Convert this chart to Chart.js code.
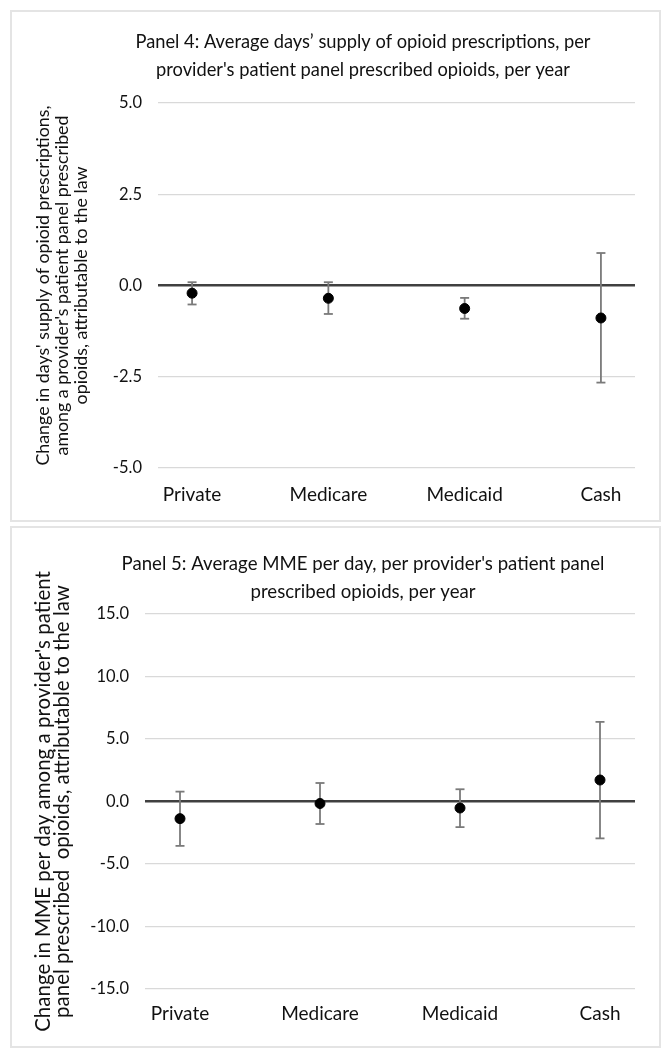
<!DOCTYPE html>
<html>
<head>
<meta charset="utf-8">
<script src="https://cdn.jsdelivr.net/npm/chart.js@4.4.1/dist/chart.umd.min.js"></script>
<style>
  html, body { margin: 0; padding: 0; background: #fff; }
  .panel { position: absolute; left: 10px; width: 651px; border: 2px solid #e4e4e4; box-sizing: border-box; }
  #p1 { top: 10px; height: 512px; }
  #p2 { top: 526px; height: 522px; }
  canvas { display: block; }
</style>
</head>
<body>
<div class="panel" id="p1"><canvas id="chart1" width="647" height="508"></canvas></div>
<div class="panel" id="p2"><canvas id="chart2" width="647" height="518"></canvas></div>
<script>
const categories = ['Private', 'Medicare', 'Medicaid', 'Cash'];

// Panel 4: days' supply
const daysEstimate = [-0.21, -0.35, -0.63, -0.89];
const daysLower = [-0.52, -0.78, -0.91, -2.66];
const daysUpper = [0.09, 0.09, -0.34, 0.89];
const daysTicks = [-5, -2.5, 0, 2.5, 5];

// Panel 5: MME per day
const mmeEstimate = [-1.37, -0.16, -0.52, 1.72];
const mmeLower = [-3.55, -1.80, -2.05, -2.95];
const mmeUpper = [0.79, 1.48, 0.98, 6.37];
const mmeTicks = [-15, -10, -5, 0, 5, 10, 15];

const FONT = 'Lato, "Open Sans", sans-serif';

// draws the panel heading, centered on a given x
const panelTitle = {
  id: 'panelTitle',
  afterDraw(chart, args, opts) {
    const ctx = chart.ctx;
    ctx.save();
    ctx.font = opts.size + 'px ' + FONT;
    ctx.fillStyle = '#111';
    ctx.textAlign = 'center';
    ctx.textBaseline = 'middle';
    opts.lines.forEach((t, i) => ctx.fillText(t, opts.x, opts.y + i * opts.lineHeight));
    ctx.restore();
  }
};

function makeChart(id, cfg) {
  const datasets = [{
    data: cfg.est.map((v, i) => ({ x: i + 1, y: v })),
    pointRadius: 5,
    pointBackgroundColor: '#000',
    pointBorderColor: '#000'
  }];
  cfg.est.forEach((v, i) => {
    datasets.push({
      data: [{ x: i + 1, y: cfg.lo[i] }, { x: i + 1, y: cfg.hi[i] }],
      showLine: true,
      borderColor: '#7a7a7a',
      borderWidth: 1.8,
      pointStyle: 'line',
      pointRadius: 4.5,
      pointBorderColor: '#7a7a7a',
      pointBorderWidth: 1.8
    });
  });

  return new Chart(document.getElementById(id), {
    type: 'scatter',
    data: { datasets },
    plugins: [panelTitle],
    options: {
      responsive: false,
      animation: false,
      layout: { padding: { top: cfg.top, right: 24, left: 0, bottom: 0 } },
      plugins: {
        legend: { display: false },
        tooltip: { enabled: false },
        panelTitle: cfg.title
      },
      scales: {
        x: {
          type: 'linear',
          min: 0.75,
          max: 4.25,
          grid: { display: false },
          border: { display: false },
          afterBuildTicks: (axis) => { axis.ticks = categories.map((c, i) => ({ value: i + 1 })); },
          afterFit: (scale) => { scale.height = cfg.xHeight; },
          ticks: {
            padding: cfg.xPad,
            color: '#111',
            font: { family: FONT, size: 19 },
            callback: (v) => categories[v - 1]
          }
        },
        y: {
          min: cfg.yTicks[0],
          max: cfg.yTicks[cfg.yTicks.length - 1],
          afterBuildTicks: (axis) => { axis.ticks = cfg.yTicks.map(v => ({ value: v })); },
          afterFit: (scale) => { scale.width = cfg.yWidth; },
          border: { display: false },
          grid: {
            drawTicks: false,
            color: (c) => c.tick && c.tick.value === 0 ? '#404040' : '#d9d9d9',
            lineWidth: (c) => c.tick && c.tick.value === 0 ? 2.5 : 1.3
          },
          ticks: {
            padding: 16,
            color: '#111',
            font: { family: FONT, size: 16.5 },
            callback: (v) => v.toFixed(1)
          },
          title: {
            display: true,
            text: cfg.yTitle,
            color: '#111',
            font: { family: FONT, size: cfg.yTitleSize, lineHeight: 19 / cfg.yTitleSize },
            padding: { top: 22, bottom: 0 }
          }
        }
      }
    }
  });
}

makeChart('chart1', {
  est: daysEstimate, lo: daysLower, hi: daysUpper, yTicks: daysTicks,
  top: 91, yWidth: 146, xHeight: 52, xPad: 7,
  yTitleSize: 17.8,
  yTitle: ["Change in days' supply of opioid prescriptions,",
           "among a provider's patient panel prescribed",
           "opioids, attributable to the law"],
  title: { x: 351, y: 30, lineHeight: 28, size: 18.3,
           lines: ['Panel 4: Average days\u2019 supply of opioid prescriptions, per',
                   "provider's patient panel prescribed opioids, per year"] }
});

makeChart('chart2', {
  est: mmeEstimate, lo: mmeLower, hi: mmeUpper, yTicks: mmeTicks,
  top: 86, yWidth: 133, xHeight: 57, xPad: 5,
  yTitleSize: 20.5,
  yTitle: ["Change in MME per day among a provider's patient",
           "panel prescribed  opioids, attributable to the law"],
  title: { x: 351, y: 36, lineHeight: 28, size: 18.6,
           lines: ["Panel 5: Average MME per day, per provider's patient panel",
                   'prescribed opioids, per year'] }
});
</script>
</body>
</html>
